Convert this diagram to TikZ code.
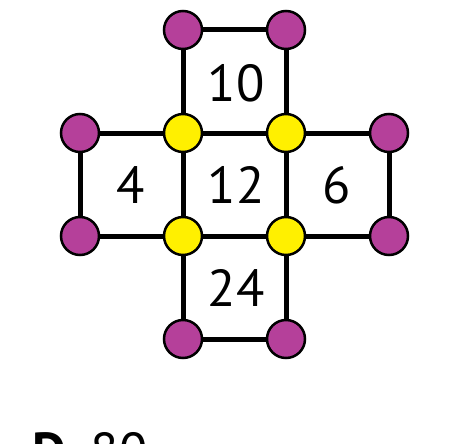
\documentclass[tikz,border=0pt]{standalone}
\usepackage{fontspec}
\setmainfont{PT Sans}
\definecolor{mag}{HTML}{B5409A}
\definecolor{yel}{HTML}{FFF000}
\begin{document}
\begin{tikzpicture}[x=1pt,y=-1pt,
  dot/.style={circle,draw=black,line width=2.5pt,minimum size=38pt,inner sep=0pt},
  pdot/.style={dot,fill=mag},
  ydot/.style={dot,fill=yel},
  edge/.style={line width=5pt},
  num/.style={font=\fontsize{52}{52}\selectfont}]
\useasboundingbox (0,0) rectangle (461,444);
\path (183,30) coordinate (p1) (286,30) coordinate (p2)
      (80,133) coordinate (p3) (183,133) coordinate (y1) (286,133) coordinate (y2) (389,133) coordinate (p4)
      (80,236) coordinate (p5) (183,236) coordinate (y3) (286,236) coordinate (y4) (389,236) coordinate (p6)
      (183,339) coordinate (p7) (286,339) coordinate (p8);
\draw[edge] (p1) -- (p2) (p1) -- (y1) (p2) -- (y2)
  (p3) -- (p4) (p5) -- (p6) (p3) -- (p5) (p4) -- (p6)
  (y1) -- (y3) (y2) -- (y4) (y3) -- (p7) (y4) -- (p8) (p7) -- (p8);
\foreach \n in {p1,p2,p3,p4,p5,p6,p7,p8} \node[pdot] (n\n) at (\n) {};
\foreach \n in {y1,y2,y3,y4} \node[ydot] (n\n) at (\n) {};
\node[num] (t10) at (236,83) {10};
\node[num] (t4) at (131,185) {4};
\node[num] (t12) at (236,185) {12};
\node[num] (t6) at (337,185) {6};
\node[num] (t24) at (236,288) {24};
\node[num,anchor=base west,inner sep=0pt] (ans) at (32,469) {\textbf{D.}\ 80};
\end{tikzpicture}
\end{document}
